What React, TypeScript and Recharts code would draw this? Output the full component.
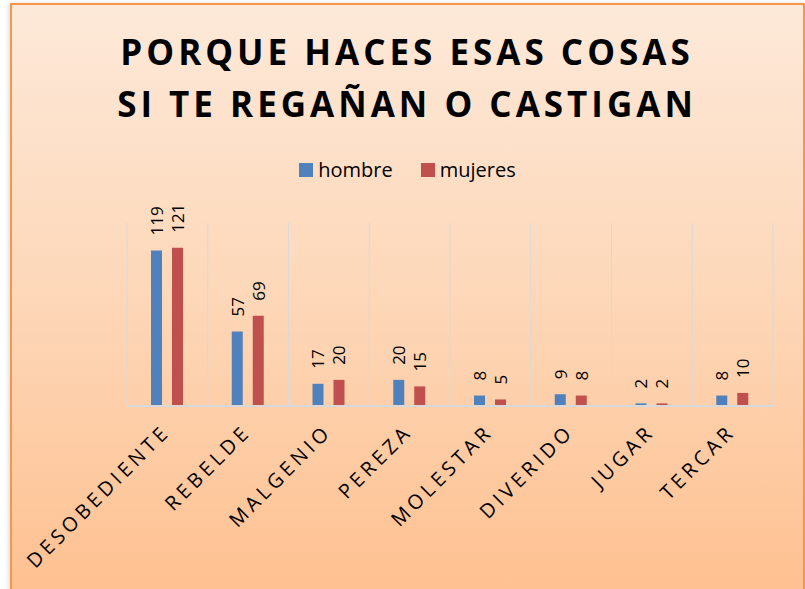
import { BarChart, Bar, XAxis, YAxis, CartesianGrid, LabelList } from 'recharts'

const categories = ['DESOBEDIENTE', 'REBELDE', 'MALGENIO', 'PEREZA', 'MOLESTAR', 'DIVERIDO', 'JUGAR', 'TERCAR']
const hombre = [119, 57, 17, 20, 8, 9, 2, 8]
const mujeres = [121, 69, 20, 15, 5, 8, 2, 10]
const titleLines = ['PORQUE HACES ESAS COSAS', 'SI TE REGAÑAN O CASTIGAN']
const seriesNames = ['hombre', 'mujeres']

const COLORS: Record<string, string> = { hombre: '#4F81BD', mujeres: '#C0504D' }
const FONT = '"Open Sans", "DejaVu Sans", sans-serif'

const data = categories.map((name, i) => ({ name, hombre: hombre[i], mujeres: mujeres[i] }))

function AxisTick(props: any) {
    const { x, y, payload } = props
    const ax = x + 4
    const ay = y + 27
    return (
        <text
            x={ax}
            y={ay}
            transform={`rotate(-45, ${ax}, ${ay})`}
            textAnchor="end"
            fontFamily={FONT}
            fontSize={20}
            letterSpacing={4}
            fill="#000"
        >
            {payload.value}
        </text>
    )
}

function BarValue(props: any) {
    const { x, y, width, value } = props
    const lx = x + width / 2
    const ly = y - 15
    return (
        <text
            x={lx}
            y={ly}
            transform={`rotate(-90, ${lx}, ${ly})`}
            textAnchor="start"
            dominantBaseline="central"
            fontFamily={FONT}
            fontSize={17}
            fill="#000"
        >
            {value}
        </text>
    )
}

export default function App() {
    return (
        <div style={{ position: 'fixed', left: 0, top: 0, width: 805, height: 589, overflow: 'hidden', background: '#fff' }}>
            {/* chart frame */}
            <div
                style={{
                    position: 'absolute', left: 10, top: 3, width: 791, height: 620,
                    border: '2px solid #F79646',
                    background: 'linear-gradient(to bottom, #FDE9D9 0%, #FDD6B6 50%, #FFBE8C 100%)',
                    boxShadow: '-2px 0 4px rgba(0,0,0,0.12)',
                }}
            />

            {/* title */}
            <svg width={805} height={140} style={{ position: 'absolute', left: 0, top: 0 }}>
                {titleLines.map((line, i) => (
                    <text
                        key={line}
                        x={407}
                        y={65 + i * 52}
                        textAnchor="middle"
                        fontFamily={FONT}
                        fontWeight="bold"
                        fontSize={35}
                        letterSpacing={4}
                        fill="#000"
                    >
                        {line}
                    </text>
                ))}
            </svg>

            {/* legend */}
            <div
                style={{
                    position: 'absolute', left: 0, top: 160, width: 815, height: 20,
                    display: 'flex', justifyContent: 'center', alignItems: 'center',
                    fontFamily: FONT, fontSize: 20, lineHeight: '20px', color: '#000',
                }}
            >
                {seriesNames.map((s, i) => (
                    <div key={s} style={{ display: 'flex', alignItems: 'center', marginLeft: i ? 28 : 0 }}>
                        <span style={{ width: 14, height: 14, background: COLORS[s], marginRight: 5 }} />
                        <span>{s}</span>
                    </div>
                ))}
            </div>

            <div style={{ position: 'absolute', left: 0, top: 0 }}>
                <BarChart
                    width={805}
                    height={589}
                    data={data}
                    margin={{ top: 223, right: 32, bottom: 153, left: 127 }}
                    barSize={11}
                    barGap={10}
                >
                    <CartesianGrid
                        horizontal={false}
                        stroke="#D9D9D9"
                        verticalCoordinatesGenerator={({ offset }: any) =>
                            [...categories.map((_, i) => offset.left + (i * offset.width) / categories.length), offset.left + offset.width]
                        }
                    />
                    <XAxis
                        dataKey="name"
                        interval={0}
                        height={30}
                        tickLine={false}
                        tickSize={0}
                        tickMargin={0}
                        axisLine={{ stroke: '#D9D9D9', strokeWidth: 2 }}
                        tick={<AxisTick />}
                    />
                    <YAxis hide domain={[0, 140]} />
                    {seriesNames.map((s) => (
                        <Bar key={s} dataKey={s} fill={COLORS[s]} isAnimationActive={false}>
                            <LabelList dataKey={s} content={<BarValue />} />
                        </Bar>
                    ))}
                </BarChart>
            </div>
        </div>
    )
}
